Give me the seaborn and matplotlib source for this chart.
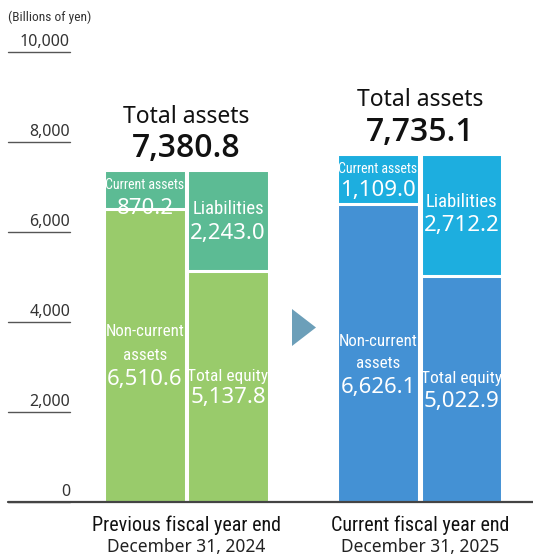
import matplotlib
matplotlib.use("Agg")
import matplotlib.pyplot as plt
from matplotlib.patches import Polygon
import seaborn as sns
import pandas as pd

# ---- data ----
periods = ["Previous fiscal year end", "Current fiscal year end"]
dates = ["December 31, 2024", "December 31, 2025"]
total_assets = [7380.8, 7735.1]
current_assets = [870.2, 1109.0]
noncurrent_assets = [6510.6, 6626.1]
liabilities = [2243.0, 2712.2]
total_equity = [5137.8, 5022.9]
yticks = [0, 2000, 4000, 6000, 8000, 10000]
unit_label = "(Billions of yen)"

# colours
c_green = "#99cb6b"
c_teal = "#5cbb94"
c_blue = "#4491d4"
c_cyan = "#1daedf"
c_arrow = "#6c9fb9"

NARROW = ["Roboto Condensed", "DejaVu Sans"]
MAIN = "Noto Sans"

sns.set_theme(style="white")
plt.rcParams["font.family"] = [MAIN, "DejaVu Sans"]

fig = plt.figure(figsize=(5.33, 5.57), dpi=100)
ax = fig.add_axes([0, 0, 1, 1])

# pixel-based layout: y value = (502 - ypix) / 0.045
PPU = 0.045
def yv(ypix):
    return (502 - ypix) / PPU

centers_assets = [145, 378]
centers_le = [228, 461.5]
xs = centers_assets + centers_le

top_layer = pd.DataFrame({
    "x": xs,
    "v": total_assets + [l + e for l, e in zip(liabilities, total_equity)],
    "k": ["a0", "a1", "l0", "l1"],
})
bot_layer = pd.DataFrame({
    "x": xs,
    "v": noncurrent_assets + total_equity,
    "k": ["a0", "a1", "l0", "l1"],
})
pal_top = {"a0": c_teal, "a1": c_cyan, "l0": c_teal, "l1": c_cyan}
pal_bot = {"a0": c_green, "a1": c_blue, "l0": c_green, "l1": c_blue}

for df, pal in [(top_layer, pal_top), (bot_layer, pal_bot)]:
    sns.barplot(data=df, x="x", y="v", hue="k", palette=pal, native_scale=True,
                dodge=False, width=0.985, legend=False, ax=ax,
                edgecolor="white", linewidth=2.2, saturation=1, errorbar=None)

ax.set_xlim(0, 533)
ax.set_ylim(yv(557), yv(0))
ax.axis("off")

# baseline
ax.plot([8, 533], [0, 0], color="#444444", lw=1.6, zorder=5)

# y ticks
for t in yticks:
    ax.plot([8, 70], [t, t], color="#555555", lw=1.0)
    ax.text(70, t + 2 * 22.2, f"{t:,}", ha="right", va="bottom", fontsize=11.5,
            color="#333333")
ax.text(8, yv(17), unit_label, ha="left", va="center", fontsize=9.6,
        color="#333333", family=NARROW)

# arrow
ax.add_patch(Polygon([[292, yv(309)], [292, yv(346)], [316, yv(327.5)]],
                     closed=True, color=c_arrow, lw=0))

W = "white"
lab = dict(ha="center", va="center", color=W)
cur_y = [(185, 208), (169, 190)]
liab_y = [(209, 233), (202, 225)]
nc_y = [(331, 355, 379), (341, 364, 387)]
eq_y = [(376, 398), (378, 401)]
tot_y = [(117, 148), (100, 132)]
for i in range(2):
    ca, cl = centers_assets[i], centers_le[i]
    mid = (ca + cl) / 2
    ax.text(mid, yv(tot_y[i][0]), "Total assets", ha="center", va="center",
            fontsize=16.5, color="#111111")
    ax.text(mid, yv(tot_y[i][1]), f"{total_assets[i]:,.1f}", ha="center",
            va="center", fontsize=23, fontweight="semibold", color="#111111",
            family=["Open Sans", "DejaVu Sans"])
    ax.text(ca, yv(cur_y[i][0]), "Current assets", fontsize=10, family=NARROW, **lab)
    ax.text(ca, yv(cur_y[i][1]), f"{current_assets[i]:,.1f}", fontsize=16, **lab)
    ax.text(cl, yv(liab_y[i][0]), "Liabilities", fontsize=13.5, family=NARROW, **lab)
    ax.text(cl, yv(liab_y[i][1]), f"{liabilities[i]:,.1f}", fontsize=16, **lab)
    ax.text(ca, yv(nc_y[i][0]), "Non-current", fontsize=12.2, family=NARROW, **lab)
    ax.text(ca, yv(nc_y[i][1]), "assets", fontsize=12.2, family=NARROW, **lab)
    ax.text(ca, yv(nc_y[i][2]), f"{noncurrent_assets[i]:,.1f}", fontsize=16, **lab)
    ax.text(cl, yv(eq_y[i][0]), "Total equity", fontsize=12.5, family=NARROW, **lab)
    ax.text(cl, yv(eq_y[i][1]), f"{total_equity[i]:,.1f}", fontsize=16, **lab)
    ax.text(mid, yv(525), periods[i], ha="center", va="center", fontsize=14.5,
            color="#111111", family=NARROW)
    ax.text(mid, yv(547), dates[i], ha="center", va="center", fontsize=12.5,
            color="#222222")

fig.savefig("out.png", dpi=100)
